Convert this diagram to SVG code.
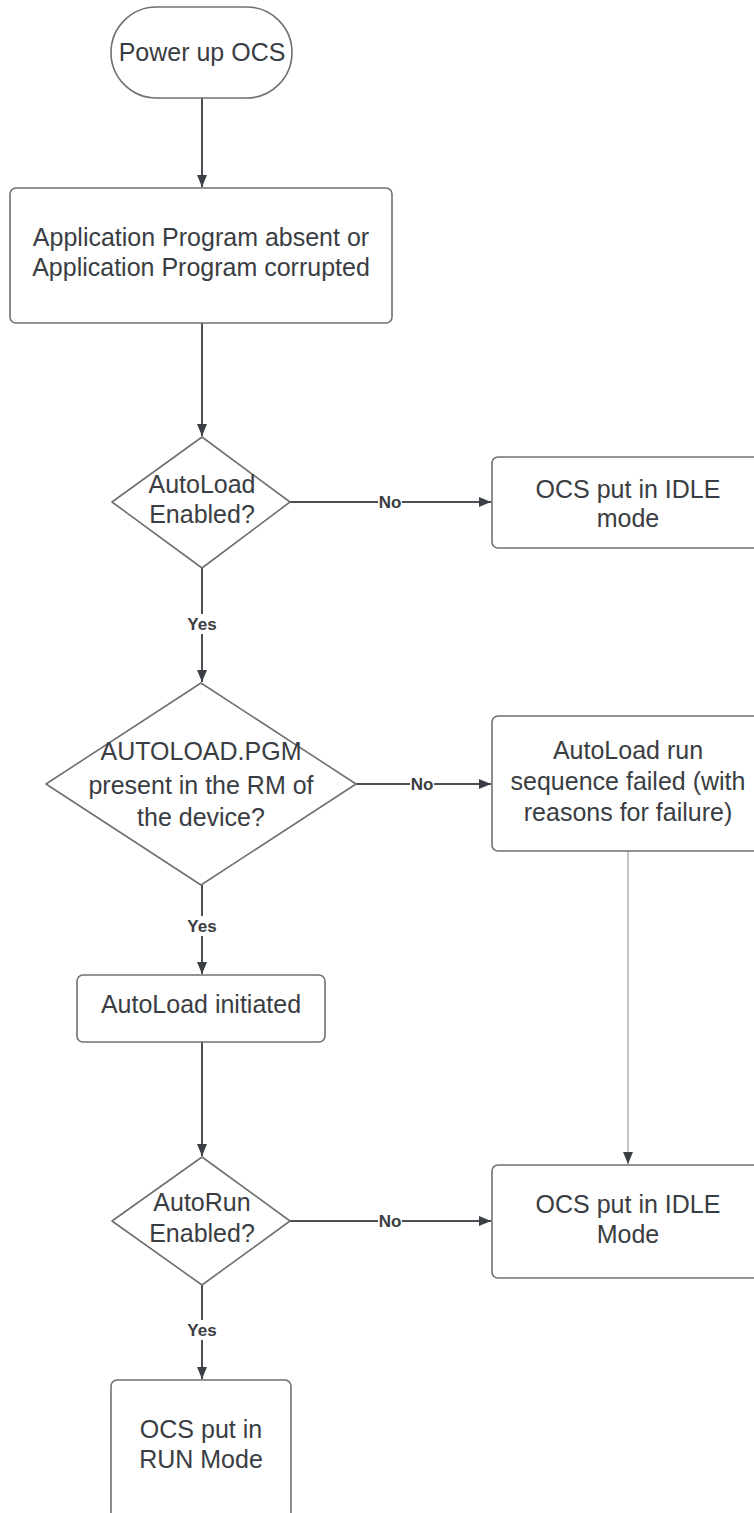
<svg xmlns="http://www.w3.org/2000/svg" width="754" height="1513" viewBox="0 0 754 1513">
<style>
.n{fill:#fff;stroke:#707070;stroke-width:1.6}
.t{font-family:"Liberation Sans",Arial,sans-serif;font-size:25px;fill:#3a3d42;text-anchor:middle}
.c{fill:none;stroke:#4a4e55;stroke-width:2}
.c2{fill:none;stroke:#9a9a9a;stroke-width:1.2}
.l{font-family:"Liberation Sans",Arial,sans-serif;font-size:17px;font-weight:bold;fill:#3a3d42;text-anchor:middle}
</style>
<defs>
<marker id="a" markerWidth="12" markerHeight="10" refX="12" refY="5" orient="auto" markerUnits="userSpaceOnUse">
<path d="M0,0 L12,5 L0,10 Z" fill="#3a3e45"/>
</marker>
</defs>
<rect width="754" height="1513" fill="#fff"/>
<g id="connectors">
<line class="c" x1="202" y1="98" x2="202" y2="187" marker-end="url(#a)"/>
<line class="c" x1="202" y1="323" x2="202" y2="436" marker-end="url(#a)"/>
<line class="c" x1="290" y1="502" x2="491" y2="502" marker-end="url(#a)"/>
<line class="c" x1="202" y1="568" x2="202" y2="682" marker-end="url(#a)"/>
<line class="c" x1="356" y1="784" x2="491" y2="784" marker-end="url(#a)"/>
<line class="c" x1="202" y1="885" x2="202" y2="974" marker-end="url(#a)"/>
<line class="c" x1="202" y1="1042" x2="202" y2="1156" marker-end="url(#a)"/>
<line class="c" x1="290" y1="1221" x2="491" y2="1221" marker-end="url(#a)"/>
<line class="c" x1="202" y1="1285" x2="202" y2="1379" marker-end="url(#a)"/>
<line class="c2" x1="628" y1="851" x2="628" y2="1164" marker-end="url(#a)"/>
<rect x="378" y="493" width="24" height="18" fill="#fff"/>
<text class="l" x="390" y="508">No</text>
<rect x="410" y="775" width="24" height="18" fill="#fff"/>
<text class="l" x="422" y="790">No</text>
<rect x="378" y="1212" width="24" height="18" fill="#fff"/>
<text class="l" x="390" y="1227">No</text>
<rect x="186" y="614" width="32" height="20" fill="#fff"/>
<text class="l" x="202" y="630">Yes</text>
<rect x="186" y="916" width="32" height="20" fill="#fff"/>
<text class="l" x="202" y="932">Yes</text>
<rect x="186" y="1320" width="32" height="20" fill="#fff"/>
<text class="l" x="202" y="1336">Yes</text>
</g>
<g id="power-up">
<rect class="n" x="111" y="7" width="181" height="91" rx="45.5"/>
<text class="t" x="202" y="61">Power up OCS</text>
</g>
<g id="app-absent">
<rect class="n" x="10" y="188" width="382" height="135" rx="6"/>
<text class="t" x="201" y="246">Application Program absent or</text>
<text class="t" x="201" y="276">Application Program corrupted</text>
</g>
<g id="autoload-enabled">
<polygon class="n" points="202,437 290,502 202,568 112,502" stroke-linejoin="round"/>
<text class="t" x="202" y="493">AutoLoad</text>
<text class="t" x="202" y="523">Enabled?</text>
</g>
<g id="idle1">
<rect class="n" x="492" y="457" width="270" height="91" rx="6"/>
<text class="t" x="628" y="498">OCS put in IDLE</text>
<text class="t" x="628" y="527">mode</text>
</g>
<g id="autoload-pgm">
<polygon class="n" points="201,683 356,784 201,885 46,784" stroke-linejoin="round"/>
<text class="t" x="201" y="760">AUTOLOAD.PGM</text>
<text class="t" x="201" y="794">present in the RM of</text>
<text class="t" x="201" y="826">the device?</text>
</g>
<g id="failed">
<rect class="n" x="492" y="716" width="270" height="135" rx="6"/>
<text class="t" x="628" y="759">AutoLoad run</text>
<text class="t" x="628" y="790">sequence failed (with</text>
<text class="t" x="628" y="821">reasons for failure)</text>
</g>
<g id="initiated">
<rect class="n" x="77" y="975" width="248" height="67" rx="6"/>
<text class="t" x="201" y="1013">AutoLoad initiated</text>
</g>
<g id="autorun-enabled">
<polygon class="n" points="202,1157 290,1221 202,1285 112,1221" stroke-linejoin="round"/>
<text class="t" x="202" y="1211">AutoRun</text>
<text class="t" x="202" y="1242">Enabled?</text>
</g>
<g id="idle2">
<rect class="n" x="492" y="1165" width="270" height="113" rx="6"/>
<text class="t" x="628" y="1213">OCS put in IDLE</text>
<text class="t" x="628" y="1243">Mode</text>
</g>
<g id="run">
<rect class="n" x="111" y="1380" width="180" height="140" rx="6"/>
<text class="t" x="201" y="1438">OCS put in</text>
<text class="t" x="201" y="1468">RUN Mode</text>
</g>
</svg>
